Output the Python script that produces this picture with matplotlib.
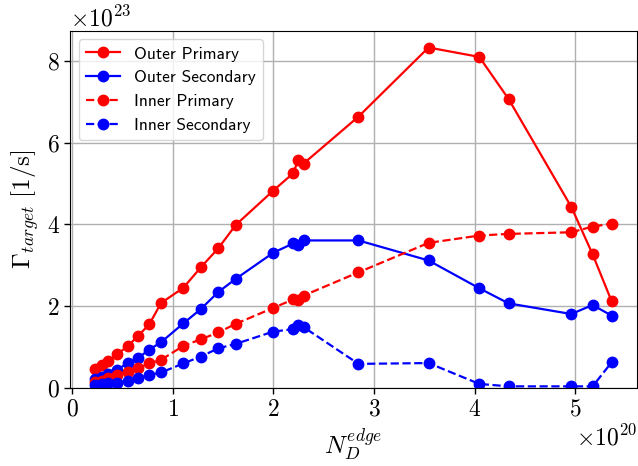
import matplotlib
matplotlib.use("Agg")
import matplotlib.pyplot as plt
from matplotlib.ticker import ScalarFormatter

plt.rcParams["font.family"] = "serif"
plt.rcParams["font.serif"] = ["cmr10"]
plt.rcParams["mathtext.fontset"] = "cm"
plt.rcParams["axes.formatter.use_mathtext"] = True

# Edge density scan (units of 1e20 m^-3) and target fluxes (units of 1e23 1/s)
n_edge = [0.229, 0.295, 0.355, 0.444, 0.553, 0.659, 0.768, 0.885, 1.106, 1.279,
          1.454, 1.627, 2.000, 2.200, 2.247, 2.300, 2.846, 3.542, 4.046, 4.337,
          4.960, 5.172, 5.361]

outer_primary = [0.47, 0.57, 0.65, 0.82, 1.02, 1.28, 1.56, 2.08, 2.45, 2.95,
                 3.42, 3.99, 4.83, 5.26, 5.59, 5.49, 6.64, 8.33, 8.10, 7.07,
                 4.43, 3.27, 2.12]
outer_secondary = [0.22, 0.28, 0.35, 0.45, 0.60, 0.74, 0.94, 1.12, 1.58, 1.93,
                   2.35, 2.67, 3.31, 3.54, 3.49, 3.61, 3.61, 3.12, 2.44, 2.07,
                   1.81, 2.03, 1.77]
inner_primary = [0.14, 0.18, 0.24, 0.33, 0.40, 0.49, 0.60, 0.69, 1.03, 1.19,
                 1.36, 1.57, 1.96, 2.17, 2.16, 2.26, 2.83, 3.55, 3.73, 3.77,
                 3.81, 3.95, 4.02]
inner_secondary = [0.07, 0.09, 0.11, 0.13, 0.18, 0.24, 0.32, 0.38, 0.60, 0.77,
                   0.97, 1.08, 1.38, 1.44, 1.55, 1.49, 0.59, 0.61, 0.10, 0.04,
                   0.04, 0.04, 0.63]

x = [v * 1e20 for v in n_edge]
scale = 1e23

fig = plt.figure(figsize=(6.38, 4.66), dpi=100)
ax = fig.add_axes([0.1097, 0.1674, 0.8883, 0.7666])

style = dict(marker="o", markersize=7.5, linewidth=1.6)
ax.plot(x, [v * scale for v in outer_primary], "-", color="red", label="Outer Primary", **style)
ax.plot(x, [v * scale for v in outer_secondary], "-", color="blue", label="Outer Secondary", **style)
ax.plot(x, [v * scale for v in inner_primary], "--", color="red", label="Inner Primary", **style)
ax.plot(x, [v * scale for v in inner_secondary], "--", color="blue", label="Inner Secondary", **style)

ax.set_xlim(-0.02e20, 5.61e20)
ax.set_ylim(0, 8.74e23)
ax.set_xticks([0, 1e20, 2e20, 3e20, 4e20, 5e20])
ax.set_yticks([0, 2e23, 4e23, 6e23, 8e23])

for axis in (ax.xaxis, ax.yaxis):
    fmt = ScalarFormatter(useMathText=True)
    axis.set_major_formatter(fmt)

ax.tick_params(labelsize=17, width=1.0, length=4)
ax.xaxis.get_offset_text().set_fontsize(17)
ax.yaxis.get_offset_text().set_fontsize(17)

ax.grid(True, color="#b0b0b0", linewidth=1.0)
ax.set_axisbelow(True)

ax.set_xlabel(r"$N_D^{edge}$", fontsize=18)
ax.set_ylabel(r"$\Gamma_{target}\ [1/\mathrm{s}]$", fontsize=18)

ax.legend(loc="upper left", prop={"family": "cmss10", "size": 12.5},
          handlelength=2.0, framealpha=0.8)

fig.savefig("out.png", dpi=100)
